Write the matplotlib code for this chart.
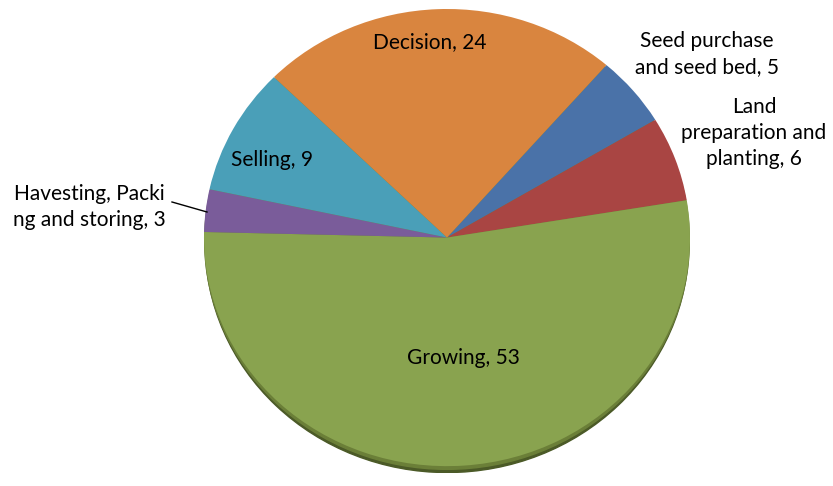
import matplotlib.pyplot as plt
from matplotlib.patches import Ellipse

labels = ['Seed purchase\nand seed bed, 5', 'Land\npreparation and\nplanting, 6', 'Growing, 53',
          'Havesting, Packi\nng and storing, 3', 'Selling, 9', 'Decision, 24']
values = [5, 6, 53, 3, 9, 24]
colors = ['#4a72a8', '#a94543', '#89a34f', '#7a5c9a', '#4a9fb8', '#d9853f']

# label centres in pixels (x, y from top)
label_pos = [(707, 54), (754, 133), (463, 358), (89, 207), (272, 160), (430, 42)]

W, H = 833, 486
fig = plt.figure(figsize=(W / 100, H / 100), dpi=100)

# pie box in pixels
left, right, top, bottom = 204, 690, 9, 473
ax = fig.add_axes([left / W, 1 - bottom / H, (right - left) / W, (bottom - top) / H])

# shadow / depth underneath
ax.add_patch(Ellipse((0, -0.028), 1.99, 2.0, color='#4b5a27', zorder=0))
ax.add_patch(Ellipse((0, -0.014), 1.995, 2.0, color='#6b7f38', zorder=0))

ax.pie(values, colors=colors, startangle=49, counterclock=False,
       wedgeprops={'linewidth': 0})
ax.set_aspect('auto')
ax.set_xlim(-1, 1)
ax.set_ylim(-1.03, 1)
ax.axis('off')

for lab, (x, y) in zip(labels, label_pos):
    fig.text(x / W, 1 - y / H, lab, ha='center', va='center', fontsize=15,
             family='Lato', linespacing=1.4, color='black')

# leader line for the small slice
fig.add_artist(plt.Line2D([172 / W, 207 / W], [1 - 202 / H, 1 - 212 / H],
                          color='black', linewidth=1))

fig.savefig('out.png', dpi=100)
